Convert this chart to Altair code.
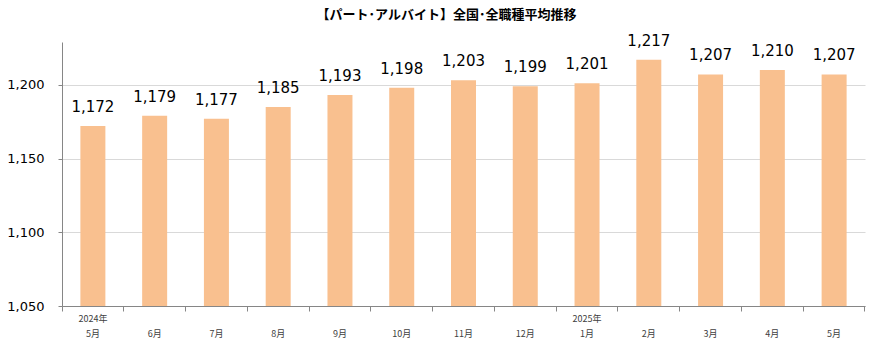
import altair as alt
import pandas as pd

months = ["2024年|5月", "|6月", "|7月", "|8月", "|9月", "|10月", "|11月", "|12月",
          "2025年|1月", "|2月", "|3月", "|4月", "|5月"]
values = [1172, 1179, 1177, 1185, 1193, 1198, 1203, 1199, 1201, 1217, 1207, 1210, 1207]
y_ticks = [1050, 1100, 1150, 1200]

df = pd.DataFrame({"month": months, "value": values})

JP = "Noto Sans CJK JP"
LAT = "DejaVu Sans"
AXIS_GREY = "#868686"
W, H = 803, 264

xscale = alt.Scale(domain=months, paddingInner=0, paddingOuter=0)
yscale = alt.Scale(domain=[1050, 1229], nice=False, zero=False, clamp=True)

xaxis = alt.Axis(labelExpr="split(datum.label, '|')", labelAngle=0,
                 bandPosition=1, tickExtra=True, tickSize=5,
                 tickColor=AXIS_GREY,
                 labelFont=JP, labelFontSize=9,
                 labelColor="#404040", labelLineHeight=15, labelPadding=3,
                 domainColor=AXIS_GREY, labelAlign="center", title=None)
yaxis = alt.Axis(values=y_ticks, labelExpr="format(datum.value, ',')", labelFont=LAT,
                 labelFontSize=13, labelColor="#000000", tickSize=4,
                 tickColor=AXIS_GREY, domainColor=AXIS_GREY, labelPadding=14,
                 grid=True, gridColor="#D9D9D9", title=None)

base = alt.Chart(df)

bars = base.mark_bar(color="#F9C08F", size=25).encode(
    x=alt.X("month:N", sort=None, scale=xscale, title=None, axis=xaxis),
    y=alt.Y("value:Q", scale=yscale, title=None, axis=yaxis),
)

labels = base.mark_text(font=LAT, fontSize=15, color="#000000", dy=-14,
                        baseline="alphabetic").encode(
    x=alt.X("month:N", sort=None, scale=xscale, title=None, axis=xaxis),
    y=alt.Y("value:Q", scale=yscale, title=None, axis=yaxis),
    text=alt.Text("value:Q", format=","),
)

chart = alt.layer(bars, labels).properties(
    width=W, height=H,
    title=alt.TitleParams("【パート･アルバイト】全国･全職種平均推移", font=JP, fontSize=13,
                          fontWeight="bold", color="#000000", anchor="middle", dx=-17,
                          offset=12),
    autosize=alt.AutoSizeParams(type="none"),
    padding={"left": 62, "top": 42, "right": 14, "bottom": 39},
).configure_view(stroke=None)

chart.save("out.html", embed_options={"renderer": "svg", "actions": False})
